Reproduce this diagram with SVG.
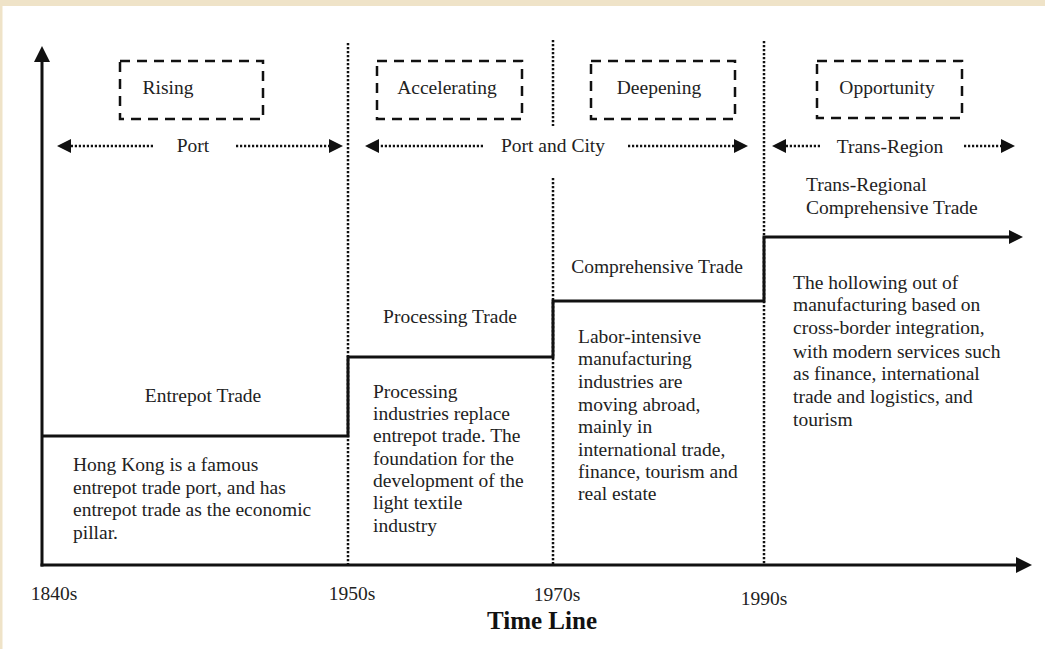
<svg xmlns="http://www.w3.org/2000/svg" width="1045" height="649" viewBox="0 0 1045 649">
<style>
.t{font-family:"Liberation Serif","Times New Roman",serif;font-size:19.5px;fill:#222}
.c{text-anchor:middle}
.b{font-weight:bold;font-size:25px;fill:#111}
.box{fill:none;stroke:#111;stroke-width:2.5;stroke-dasharray:10 7}
.dot{fill:none;stroke:#111;stroke-width:2.5;stroke-dasharray:2.2 1.8}
.solid{fill:none;stroke:#111;stroke-width:3;stroke-linejoin:miter}
</style>
<defs>
<marker id="ah" markerUnits="userSpaceOnUse" viewBox="0 0 16 16" markerWidth="16" markerHeight="16" refX="0" refY="8" orient="auto"><path d="M0,0 L16,8 L0,16 z" fill="#111"/></marker>
<marker id="dh" markerUnits="userSpaceOnUse" viewBox="0 0 14 14" markerWidth="14" markerHeight="14" refX="0" refY="7" orient="auto"><path d="M0,0 L14,7 L0,14 z" fill="#111"/></marker>
</defs>
<rect x="0" y="0" width="1045" height="649" fill="#ffffff"/>
<rect x="0" y="0" width="1045" height="6" fill="#efe3c8"/>
<rect x="0" y="0" width="2.5" height="649" fill="#efe3c8"/>
<g id="connectors">
<line class="dot" x1="348" y1="43" x2="348" y2="565"/>
<line class="dot" x1="553" y1="40" x2="553" y2="126"/>
<line class="dot" x1="553" y1="178" x2="553" y2="565"/>
<line class="dot" x1="764" y1="41" x2="764" y2="565"/>
<line class="dot" x1="153" y1="146" x2="71" y2="146" marker-end="url(#dh)"/>
<line class="dot" x1="236" y1="146" x2="329" y2="146" marker-end="url(#dh)"/>
<line class="dot" x1="483" y1="146" x2="379" y2="146" marker-end="url(#dh)"/>
<line class="dot" x1="628" y1="146" x2="734" y2="146" marker-end="url(#dh)"/>
<line class="dot" x1="820" y1="146" x2="786" y2="146" marker-end="url(#dh)"/>
<line class="dot" x1="964" y1="146" x2="1001" y2="146" marker-end="url(#dh)"/>
<line class="solid" x1="42" y1="566.5" x2="42" y2="62" marker-end="url(#ah)"/>
<line class="solid" x1="40.5" y1="565" x2="1016" y2="565" marker-end="url(#ah)"/>
<polyline class="solid" points="42,436 348,436 348,357 553,357 553,301 764,301 764,237 1009,237" marker-end="url(#dh)"/>
</g>
<g id="rising"><rect class="box" x="120" y="61" width="143" height="58"/><text class="t c" x="168" y="94">Rising</text></g>
<g id="accelerating"><rect class="box" x="377" y="61" width="145" height="58"/><text class="t c" x="447" y="94">Accelerating</text></g>
<g id="deepening"><rect class="box" x="591" y="61" width="144" height="58"/><text class="t c" x="659" y="94">Deepening</text></g>
<g id="opportunity"><rect class="box" x="817" y="61" width="145" height="57"/><text class="t c" x="887" y="94">Opportunity</text></g>
<g id="port"><text class="t c" x="193" y="152">Port</text></g>
<g id="port-city"><text class="t c" x="553" y="152">Port and City</text></g>
<g id="trans-region"><text class="t c" x="890" y="153">Trans-Region</text></g>
<g id="entrepot-trade"><text class="t c" x="203" y="402">Entrepot Trade</text></g>
<g id="processing-trade"><text class="t c" x="450" y="323">Processing Trade</text></g>
<g id="comprehensive-trade"><text class="t c" x="657" y="273">Comprehensive Trade</text></g>
<g id="trans-regional-trade"><text class="t" x="806" y="191">Trans-Regional</text><text class="t" x="806" y="214">Comprehensive Trade</text></g>
<g id="desc-1840s"><text class="t" x="73" y="471">Hong Kong is a famous</text><text class="t" x="73" y="493.5">entrepot trade port, and has</text><text class="t" x="73" y="516">entrepot trade as the economic</text><text class="t" x="73" y="538.5">pillar.</text></g>
<g id="desc-1950s"><text class="t" x="373" y="398">Processing</text><text class="t" x="373" y="420">industries replace</text><text class="t" x="373" y="442">entrepot trade. The</text><text class="t" x="373" y="465">foundation for the</text><text class="t" x="373" y="487">development of the</text><text class="t" x="373" y="509">light textile</text><text class="t" x="373" y="532">industry</text></g>
<g id="desc-1970s"><text class="t" x="578" y="343">Labor-intensive</text><text class="t" x="578" y="365">manufacturing</text><text class="t" x="578" y="388">industries are</text><text class="t" x="578" y="411">moving abroad,</text><text class="t" x="578" y="433">mainly in</text><text class="t" x="578" y="456">international trade,</text><text class="t" x="578" y="478">finance, tourism and</text><text class="t" x="578" y="500">real estate</text></g>
<g id="desc-1990s"><text class="t" x="793" y="289">The hollowing out of</text><text class="t" x="793" y="311">manufacturing based on</text><text class="t" x="793" y="334">cross-border integration,</text><text class="t" x="793" y="358">with modern services such</text><text class="t" x="793" y="380">as finance, international</text><text class="t" x="793" y="403">trade and logistics, and</text><text class="t" x="793" y="426">tourism</text></g>
<g id="years"><text class="t c" x="54" y="600">1840s</text><text class="t c" x="352" y="600">1950s</text><text class="t c" x="557" y="601">1970s</text><text class="t c" x="764" y="605">1990s</text></g>
<g id="title"><text class="t b c" x="542" y="629">Time Line</text></g>
</svg>
